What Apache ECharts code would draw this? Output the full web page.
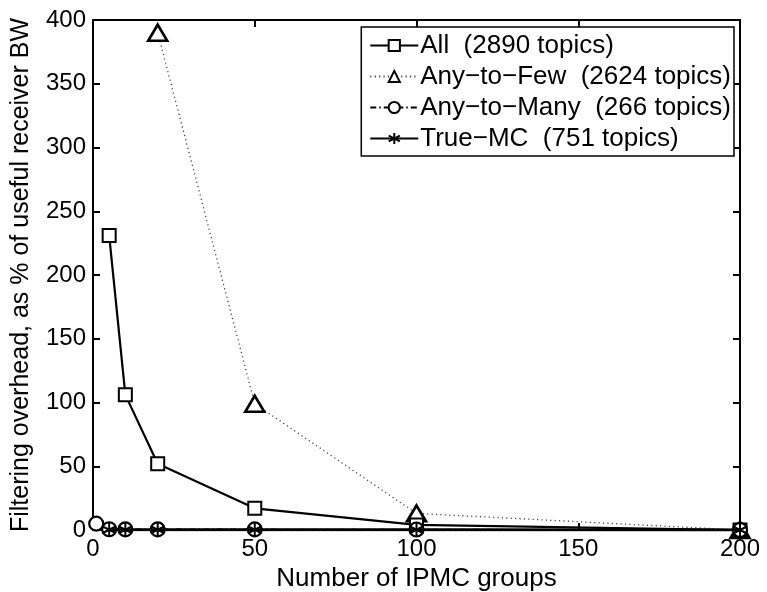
<!DOCTYPE html>
<html>
<head>
<meta charset="utf-8">
<script src="https://cdn.jsdelivr.net/npm/echarts@6/dist/echarts.min.js"></script>
<style>
  html, body { margin: 0; padding: 0; background: #fff; }
  #chart { width: 767px; height: 592px; }
</style>
</head>
<body>
<div id="chart"></div>
<script>
// Filtering overhead vs. number of IPMC groups
const seriesNames = [
  'All  (2890 topics)',
  'Any\u2212to\u2212Few  (2624 topics)',
  'Any\u2212to\u2212Many  (266 topics)',
  'True\u2212MC  (751 topics)'
];
const allGroups = [5, 10, 20, 50, 100, 200];
const allValues = [231, 106, 52, 17, 4, 0];
const fewGroups = [20, 50, 100, 200];
const fewValues = [390, 99, 13, 0];
const manyGroups = [1, 5, 10, 20, 50, 100, 200];
const manyValues = [5, 0.6, 0.5, 0.5, 0.5, 0.4, 0];
const trueGroups = [5, 10, 20, 50, 100, 200];
const trueValues = [0.2, 0.2, 0.2, 0.2, 0.2, 0];
const xTicks = [0, 50, 100, 150, 200];
const yTicks = [0, 50, 100, 150, 200, 250, 300, 350, 400];

const pairs = (xs, ys) => xs.map((x, i) => [x, ys[i]]);
const FONT = 'Liberation Sans, Arial, Helvetica, sans-serif';
const asterisk = 'path://M0,-10L0,10M-8.66,-5L8.66,5M-8.66,5L8.66,-5';

const chart = echarts.init(document.getElementById('chart'), null, { renderer: 'canvas' });

const axisLine = { show: true, onZero: false, lineStyle: { color: '#000', width: 2 } };
const axisTick = { show: true, inside: true, length: 7, lineStyle: { color: '#000', width: 2 } };
const tickFont = { fontFamily: FONT, fontSize: 24, color: '#000' };

chart.setOption({
  animation: false,
  backgroundColor: '#fff',
  grid: { left: 93, right: 27, top: 20, bottom: 62, containLabel: false, outerBoundsMode: 'none' },
  legend: {
    data: seriesNames,
    orient: 'vertical',
    right: 33,
    top: 27,
    padding: [5, 3, 4, 8],
    itemGap: 4,
    itemWidth: 48,
    itemHeight: 14,
    backgroundColor: '#fff',
    borderColor: '#000',
    borderWidth: 1.5,
    borderRadius: 0,
    textStyle: { fontFamily: FONT, fontSize: 26, lineHeight: 27, color: '#000', padding: [0, 0, 0, -3] }
  },
  xAxis: [{
    type: 'value', min: 0, max: 200, interval: 50,
    name: 'Number of IPMC groups', nameLocation: 'middle', nameGap: 33,
    nameTextStyle: { fontFamily: FONT, fontSize: 26, color: '#000' },
    axisLine, axisTick,
    axisLabel: Object.assign({ margin: 7, formatter: v => xTicks.includes(v) ? String(v) : '' }, tickFont),
    splitLine: { show: false }
  }, {
    type: 'value', position: 'top', min: 0, max: 200, interval: 50,
    axisLine, axisTick, axisLabel: { show: false },
    splitLine: { show: false }
  }],
  yAxis: [{
    type: 'value', min: 0, max: 400, interval: 50,
    name: 'Filtering overhead, as % of useful receiver BW',
    nameLocation: 'middle', nameGap: 59, nameRotate: 90,
    nameTextStyle: { fontFamily: FONT, fontSize: 25, color: '#000' },
    axisLine, axisTick,
    axisLabel: Object.assign({ margin: 7, formatter: v => yTicks.includes(v) ? String(v) : '' }, tickFont),
    splitLine: { show: false }
  }, {
    type: 'value', position: 'right', min: 0, max: 400, interval: 50,
    axisLine, axisTick, axisLabel: { show: false },
    splitLine: { show: false }
  }],
  series: [{
    name: seriesNames[0], type: 'line', data: pairs(allGroups, allValues),
    symbol: 'rect', symbolSize: 13, showAllSymbol: true,
    lineStyle: { color: '#000', width: 2.2, type: 'solid' },
    itemStyle: { color: '#fff', borderColor: '#000', borderWidth: 2 },
    z: 3
  }, {
    name: seriesNames[1], type: 'line', data: pairs(fewGroups, fewValues),
    symbol: 'triangle', symbolSize: [19, 16], showAllSymbol: true,
    lineStyle: { color: '#444', width: 1.3, type: [1.2, 3.2] },
    itemStyle: { color: '#fff', borderColor: '#000', borderWidth: 2.6 },
    z: 2
  }, {
    name: seriesNames[2], type: 'line', data: pairs(manyGroups, manyValues),
    symbol: 'circle', symbolSize: 14, showAllSymbol: true,
    lineStyle: { color: '#000', width: 1.5, type: [6, 3, 1.5, 3] },
    itemStyle: { color: '#fff', borderColor: '#000', borderWidth: 2.2 },
    z: 4
  }, {
    name: seriesNames[3], type: 'line', data: pairs(trueGroups, trueValues),
    symbol: asterisk, symbolSize: 14, showAllSymbol: true,
    lineStyle: { color: '#000', width: 3, type: 'solid' },
    itemStyle: { color: '#000', borderColor: '#000', borderWidth: 2 },
    z: 5
  }]
});
</script>
</body>
</html>
